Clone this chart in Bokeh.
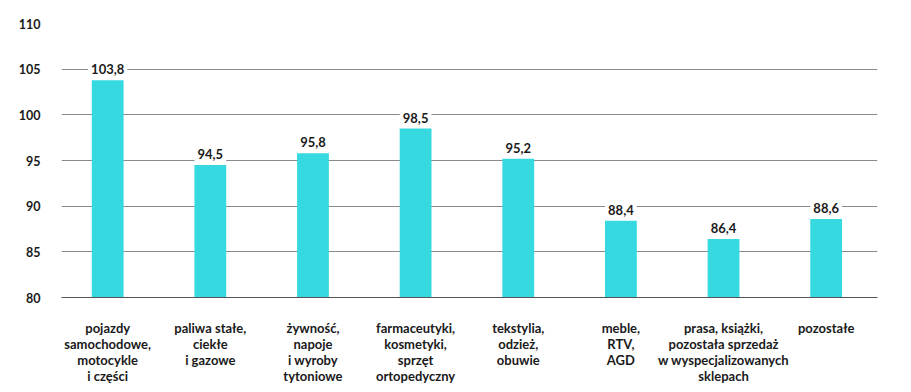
from bokeh.plotting import figure
from bokeh.models import ColumnDataSource, FixedTicker, Range1d
from bokeh.embed import file_html
from bokeh.resources import INLINE
from bokeh.core.properties import value

categories = [
    "pojazdy\nsamochodowe,\nmotocykle\ni części",
    "paliwa stałe,\nciekłe\ni gazowe",
    "żywność,\nnapoje\ni wyroby\ntytoniowe",
    "farmaceutyki,\nkosmetyki,\nsprzęt\nortopedyczny",
    "tekstylia,\nodzież,\nobuwie",
    "meble,\nRTV,\nAGD",
    "prasa, książki,\npozostała sprzedaż\nw wyspecjalizowanych\nsklepach",
    "pozostałe",
]
values = [103.8, 94.5, 95.8, 98.5, 95.2, 88.4, 86.4, 88.6]
y_ticks = [80, 85, 90, 95, 100, 105, 110]

FONT = "Lato"
xs = list(range(len(values)))
labels = [f"{v:.1f}".replace(".", ",") for v in values]
src = ColumnDataSource(dict(x=xs, top=values, label=labels))

p = figure(frame_width=816, frame_height=274, output_backend="svg", toolbar_location=None,
           x_range=Range1d(-0.45, 7.5), y_range=Range1d(80, 110),
           min_border_left=61, min_border_right=14, min_border_top=23, min_border_bottom=2)
p.outline_line_color = None
p.background_fill_color = "white"
p.border_fill_color = "white"

p.vbar(x="x", top="top", bottom=80, width=0.31, source=src,
       fill_color="#36d9e0", line_color=None)

p.text(x="x", y="top", text="label", source=src, text_align="center",
       text_baseline="bottom", y_offset=-3, text_font=value(FONT),
       text_font_size="13px", text_font_style="bold", text_color="#1a1a1a",
       background_fill_color="white", padding=3)

p.ygrid.ticker = FixedTicker(ticks=y_ticks)
p.ygrid.grid_line_color = "#8a8a8a"
p.ygrid.grid_line_width = 1
p.xgrid.grid_line_color = None

yax = p.yaxis[0]
yax.ticker = FixedTicker(ticks=y_ticks)
yax.axis_line_color = None
yax.major_tick_line_color = None
yax.minor_tick_line_color = None
yax.major_tick_in = 0
yax.major_tick_out = 0
yax.major_label_standoff = 21
yax.major_label_text_font = FONT
yax.major_label_text_font_size = "12.5px"
yax.major_label_text_font_style = "bold"
yax.major_label_text_color = "#1a1a1a"

xax = p.xaxis[0]
xax.ticker = FixedTicker(ticks=xs)
xax.major_label_overrides = {i: c for i, c in zip(xs, categories)}
xax.axis_line_color = "#555555"
xax.major_tick_line_color = None
xax.minor_tick_line_color = None
xax.major_tick_in = 0
xax.major_tick_out = 0
xax.major_label_standoff = 22
xax.major_label_text_font = FONT
xax.major_label_text_font_size = "13px"
xax.major_label_text_font_style = "bold"
xax.major_label_text_color = "#1a1a1a"
xax.major_label_text_line_height = 1.0

open("out.html", "w").write(file_html(p, INLINE))
